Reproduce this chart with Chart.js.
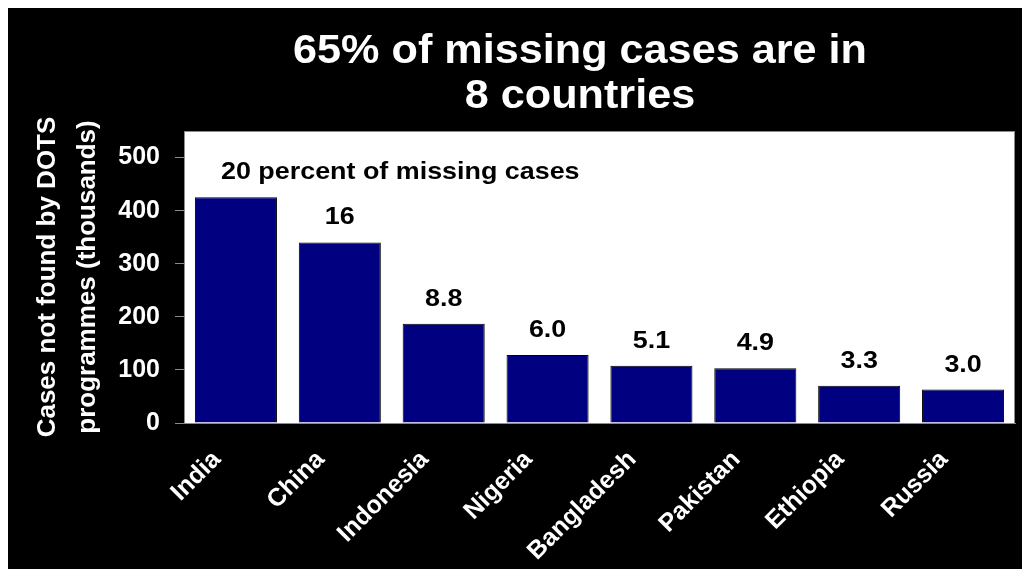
<!DOCTYPE html>
<html>
<head>
<meta charset="utf-8">
<script src="https://cdn.jsdelivr.net/npm/chart.js@4/dist/chart.umd.min.js"></script>
<style>
  html, body { margin: 0; padding: 0; background: #fff; }
  #frame { position: absolute; left: 8px; top: 8px; width: 1014px; height: 561px; background: #000; }
</style>
</head>
<body>
<div id="frame"><canvas id="missingChart" width="1014" height="561"></canvas></div>
<script>
// ===== DATA =====
const countries = ['India', 'China', 'Indonesia', 'Nigeria', 'Bangladesh', 'Pakistan', 'Ethiopia', 'Russia'];
const missingCases = [425, 340, 187, 128, 108, 103, 70, 63];   // thousands
const shareLabels = ['20', '16', '8.8', '6.0', '5.1', '4.9', '3.3', '3.0']; // percent of missing cases
const shareNote = ' percent of missing cases';
const titleLines = ['65% of missing cases are in', '8 countries'];
const yTitle = ['Cases not found by DOTS', 'programmes (thousands)'];
const yTicks = [0, 100, 200, 300, 400, 500];

const FONT = 'Arial, "Liberation Sans", sans-serif';

// white plot panel with thin grey frame
const plotPanel = {
  id: 'plotPanel',
  beforeDatasetsDraw(chart) {
    const { ctx, chartArea: a } = chart;
    ctx.save();
    ctx.fillStyle = '#fff';
    ctx.fillRect(a.left, a.top, a.right - a.left, a.bottom - a.top);
    ctx.strokeStyle = '#8c8c8c';
    ctx.lineWidth = 1;
    ctx.strokeRect(a.left + 0.5, a.top + 0.5, a.right - a.left - 1, a.bottom - a.top);
    ctx.restore();
  }
};

// slightly wide bold text, like the slide fonts
function wideText(ctx, text, x, y, sx, align) {
  ctx.save();
  ctx.translate(x, y);
  ctx.scale(sx, 1);
  ctx.textAlign = align;
  ctx.fillText(text, 0, 0);
  ctx.restore();
}

const slideTitle = {
  id: 'slideTitle',
  afterDraw(chart) {
    const ctx = chart.ctx;
    ctx.save();
    ctx.fillStyle = '#fff';
    ctx.font = 'bold 40px ' + FONT;
    ctx.textBaseline = 'alphabetic';
    wideText(ctx, titleLines[0], 572, 55, 1.08, 'center');
    wideText(ctx, titleLines[1], 572, 100, 1.08, 'center');
    ctx.restore();
  }
};

// percent share above each bar; the first one carries the note
const shareText = {
  id: 'shareText',
  afterDatasetsDraw(chart) {
    const ctx = chart.ctx;
    const bars = chart.getDatasetMeta(0).data;
    const sx = 1.12;
    ctx.save();
    ctx.fillStyle = '#000';
    ctx.font = 'bold 24px ' + FONT;
    ctx.textBaseline = 'alphabetic';
    bars.forEach((bar, i) => {
      const y = bar.y - 18;
      if (i === 0) {
        const w = ctx.measureText(shareLabels[i]).width * sx;
        wideText(ctx, shareLabels[i] + shareNote, bar.x - w / 2, y, sx, 'left');
      } else {
        wideText(ctx, shareLabels[i], bar.x, y, sx, 'center');
      }
    });
    ctx.restore();
  }
};

new Chart(document.getElementById('missingChart'), {
  type: 'bar',
  data: {
    labels: countries,
    datasets: [{
      data: missingCases,
      backgroundColor: '#000080',
      borderColor: '#000',
      borderWidth: 1,
      borderSkipped: 'bottom',
      barPercentage: 0.79,
      categoryPercentage: 1
    }]
  },
  plugins: [plotPanel, shareText, slideTitle],
  options: {
    responsive: false,
    animation: false,
    layout: { padding: { top: 123, right: 7, left: 0, bottom: 0 } },
    plugins: { legend: { display: false }, tooltip: { enabled: false } },
    scales: {
      x: {
        grid: { display: false },
        border: { color: '#8c8c8c' },
        ticks: {
          color: '#fff',
          font: { family: FONT, size: 25, weight: 'bold' },
          minRotation: 45,
          maxRotation: 45,
          padding: 14,
          labelOffset: -19
        },
        afterFit: s => { s.height = 146; }
      },
      y: {
        min: 0,
        max: 550,
        afterBuildTicks: s => { s.ticks = yTicks.map(v => ({ value: v })); },
        grid: { drawOnChartArea: false, drawTicks: true, tickLength: 9, color: '#8c8c8c' },
        border: { color: '#8c8c8c' },
        ticks: {
          color: '#fff',
          padding: 15,
          font: { family: FONT, size: 25, weight: 'bold' }
        },
        title: {
          display: true,
          text: yTitle,
          color: '#fff',
          font: { family: FONT, size: 26, weight: 'bold', lineHeight: 1.54 },
          padding: { top: 20, bottom: 0 }
        },
        afterFit: s => { s.width = 176; }
      }
    }
  }
});
</script>
</body>
</html>
